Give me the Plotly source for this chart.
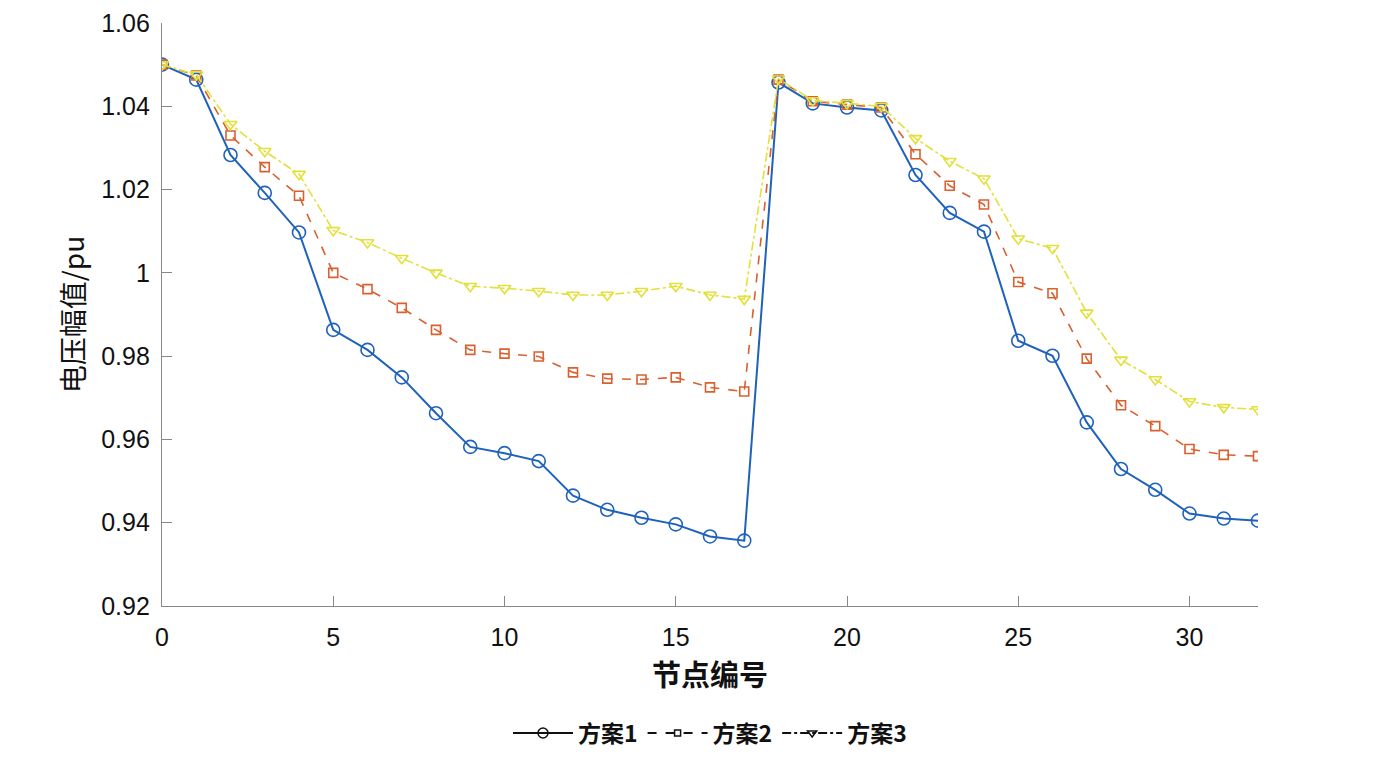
import plotly.graph_objects as go

nodes = list(range(33))
scheme1 = [1.0500, 1.0464, 1.0283, 1.0192, 1.0097, 0.9863, 0.9815, 0.9749, 0.9663, 0.9582,
           0.9567, 0.9548, 0.9465, 0.9431, 0.9412, 0.9396, 0.9367, 0.9357, 1.0457, 1.0407,
           1.0397, 1.0390, 1.0235, 1.0144, 1.0099, 0.9837, 0.9801, 0.9641, 0.9529, 0.9479,
           0.9422, 0.9410, 0.9405]
scheme2 = [1.0500, 1.0474, 1.0330, 1.0254, 1.0185, 1.0000, 0.9961, 0.9916, 0.9863, 0.9815,
           0.9806, 0.9799, 0.9761, 0.9746, 0.9744, 0.9749, 0.9725, 0.9715, 1.0464, 1.0412,
           1.0404, 1.0397, 1.0285, 1.0209, 1.0164, 0.9978, 0.9951, 0.9794, 0.9682, 0.9632,
           0.9577, 0.9563, 0.9560]
scheme3 = [1.0500, 1.0476, 1.0357, 1.0292, 1.0237, 1.0102, 1.0073, 1.0035, 1.0000, 0.9968,
           0.9963, 0.9956, 0.9947, 0.9947, 0.9956, 0.9968, 0.9947, 0.9937, 1.0466, 1.0414,
           1.0407, 1.0400, 1.0323, 1.0268, 1.0226, 1.0082, 1.0059, 0.9904, 0.9791, 0.9744,
           0.9691, 0.9677, 0.9672]
names = ["方案1", "方案2", "方案3"]
x_ticks = [0, 5, 10, 15, 20, 25, 30]
y_ticks = [0.92, 0.94, 0.96, 0.98, 1.00, 1.02, 1.04, 1.06]
y_tick_labels = ["0.92", "0.94", "0.96", "0.98", "1", "1.02", "1.04", "1.06"]

colors = ["#1f62bb", "#d9602f", "#e2e03a"]
dashes = ["solid", "dash", "dashdot"]
symbols = ["circle-open", "square-open", "triangle-down-open"]
msizes = [13, 9, 11]
lwidths = [2, 1.6, 1.6]

fig = go.Figure()
for i, ys in enumerate([scheme1, scheme2, scheme3]):
    fig.add_trace(go.Scatter(
        x=nodes, y=ys, mode="lines+markers", showlegend=False,
        line=dict(color=colors[i], dash=dashes[i], width=lwidths[i]),
        marker=dict(symbol=symbols[i], size=msizes[i],
                    line=dict(color=colors[i], width=1.6)),
    ))
# legend entries (drawn in black as in the reference)
for i in range(3):
    fig.add_trace(go.Scatter(
        x=[None], y=[None], mode="lines+markers", name=names[i],
        line=dict(color="#111111", dash=dashes[i], width=2),
        marker=dict(symbol=symbols[i], size=msizes[i] - 3,
                    line=dict(color="#111111", width=1.5)),
    ))

fig.update_layout(
    width=1400, height=766,
    margin=dict(l=154, r=150, t=15, b=168, autoexpand=False),
    paper_bgcolor="white", plot_bgcolor="white",
    font=dict(family="Liberation Sans, Arial, sans-serif", size=25, color="#111111"),
    legend=dict(orientation="h", x=0.5, xanchor="center", y=-0.218, yanchor="middle",
                font=dict(family="Noto Sans CJK SC", size=23, color="#111111", weight="bold"),
                itemwidth=60, tracegroupgap=0, bgcolor="rgba(0,0,0,0)"),
)
fig.update_xaxes(
    range=[0, 32], tickvals=x_ticks, ticks="inside", ticklen=10, tickcolor="#888888",
    showline=True, linecolor="#888888", linewidth=1.2, showgrid=False, zeroline=False,
    tickfont=dict(size=25), ticklabelstandoff=9, ticklabeloverflow="allow",
    mirror=False, automargin=False,
    title=dict(text="节点编号", standoff=15,
               font=dict(family="Noto Sans CJK SC", size=29, color="#111111", weight="bold")),
)
fig.update_yaxes(
    range=[0.92, 1.06], tickvals=y_ticks, ticktext=y_tick_labels, ticks="inside",
    ticklen=10, tickcolor="#888888", showline=True, linecolor="#888888", linewidth=1.2,
    showgrid=False, zeroline=False, tickfont=dict(size=25), ticklabelstandoff=6,
    ticklabeloverflow="allow", mirror=False, automargin=False,
    title=dict(text="电压幅值/pu", standoff=8,
               font=dict(family="Noto Sans CJK SC", size=28, color="#111111")),
)

fig.write_html("out.html")
